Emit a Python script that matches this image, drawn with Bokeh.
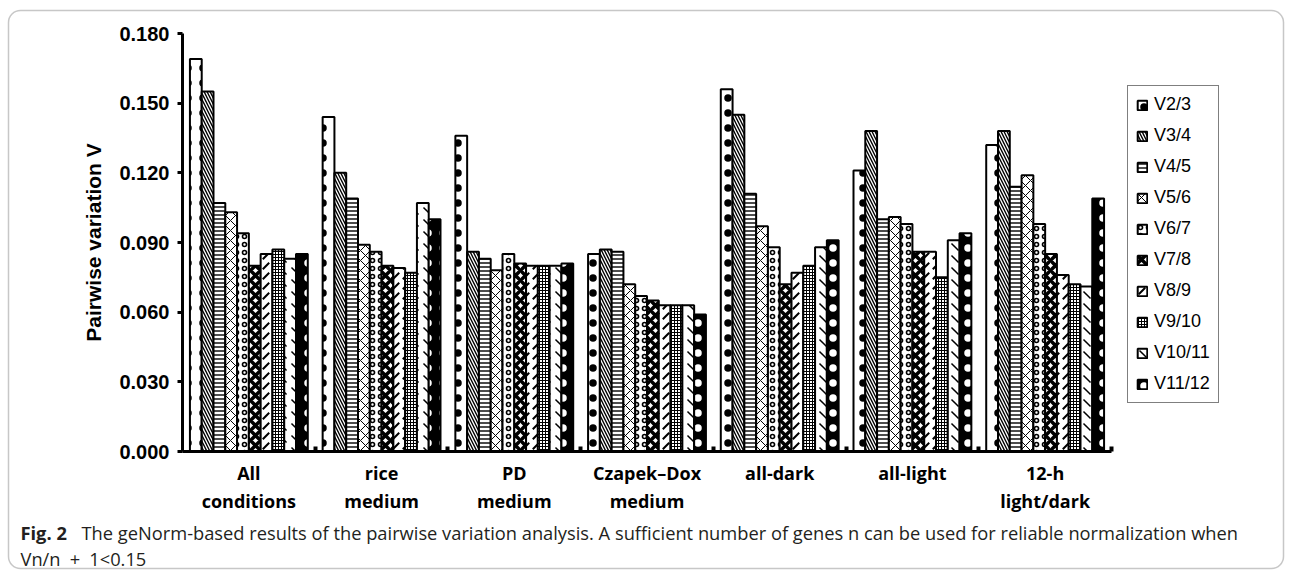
from bokeh.plotting import figure
from bokeh.models import (FixedTicker, NumeralTickFormatter, Legend, LegendItem,
                          Label, BoxAnnotation, Range1d, ColumnDataSource)
from bokeh.embed import file_html
from bokeh.resources import INLINE

# ---------------- data ----------------
groups = ["All\nconditions", "rice\nmedium", "PD\nmedium", "Czapek\u2013Dox\nmedium",
          "all-dark", "all-light", "12-h\nlight/dark"]
series = ["V2/3", "V3/4", "V4/5", "V5/6", "V6/7", "V7/8", "V8/9", "V9/10", "V10/11", "V11/12"]

all_conditions = [0.169, 0.155, 0.107, 0.103, 0.094, 0.080, 0.085, 0.087, 0.083, 0.085]
rice_medium    = [0.144, 0.120, 0.109, 0.089, 0.086, 0.080, 0.079, 0.077, 0.107, 0.100]
pd_medium      = [0.136, 0.086, 0.083, 0.078, 0.085, 0.081, 0.080, 0.080, 0.080, 0.081]
czapek_dox     = [0.085, 0.087, 0.086, 0.072, 0.067, 0.065, 0.063, 0.063, 0.063, 0.059]
all_dark       = [0.156, 0.145, 0.111, 0.097, 0.088, 0.072, 0.077, 0.080, 0.088, 0.091]
all_light      = [0.121, 0.138, 0.100, 0.101, 0.098, 0.086, 0.086, 0.075, 0.091, 0.094]
light_dark_12h = [0.132, 0.138, 0.114, 0.119, 0.098, 0.085, 0.076, 0.072, 0.071, 0.109]

table = [all_conditions, rice_medium, pd_medium, czapek_dox, all_dark, all_light, light_dark_12h]
y_ticks = [0.0, 0.03, 0.06, 0.09, 0.12, 0.15, 0.18]
y_max = 0.18

caption_bold = "Fig. 2"
caption_line1 = ("The geNorm-based results of the pairwise variation analysis. A sufficient "
                 "number of genes n can be used for reliable normalization when")
caption_line2 = "Vn/n\u2002+\u20021<0.15"

# ---------------- styles ----------------
styles = [
    dict(fill_color="white", hatch_pattern=".", hatch_scale=15, hatch_weight=1.0),
    dict(fill_color="white", hatch_pattern="\\", hatch_scale=6, hatch_weight=1.4),
    dict(fill_color="white", hatch_pattern="-", hatch_scale=4, hatch_weight=1.4),
    dict(fill_color="white", hatch_pattern="x", hatch_scale=10, hatch_weight=1.0),
    dict(fill_color="white", hatch_pattern="o", hatch_scale=8, hatch_weight=1.6),
    dict(fill_color="white", hatch_pattern="x", hatch_scale=10, hatch_weight=3.5),
    dict(fill_color="white", hatch_pattern=",", hatch_scale=10, hatch_weight=2.0),
    dict(fill_color="white", hatch_pattern="+", hatch_scale=3, hatch_weight=1.0),
    dict(fill_color="white", hatch_pattern="`", hatch_scale=12, hatch_weight=1.5),
    dict(fill_color="black", hatch_pattern=".", hatch_scale=15, hatch_weight=1.0, hatch_color="white"),
]

# ---------------- layout (pixels) ----------------
W, H = 1285, 570
AX_LEFT, AX_RIGHT = 182, 1111      # pixel x of the axis start / end
AX_BOTTOM, AX_TOP = 451, 33        # pixel y of 0 and of y_max

n_groups = len(groups)
n_series = len(series)
bw = 0.0888

ppx = (AX_RIGHT - AX_LEFT) / n_groups
ppy = (AX_BOTTOM - AX_TOP) / y_max
x_range = Range1d(-AX_LEFT / ppx, (W - AX_LEFT) / ppx)
y_range = Range1d(-(H - AX_BOTTOM) / ppy, AX_BOTTOM / ppy)

p = figure(width=W, height=H, output_backend="svg", toolbar_location=None,
           x_range=x_range, y_range=y_range, min_border=0)
p.xgrid.visible = False
p.ygrid.visible = False
p.outline_line_color = None
p.background_fill_color = "white"
p.border_fill_color = "white"

legend_items = []
for s, name in enumerate(series):
    xs = [g + 0.5 + (s - (n_series - 1) / 2) * bw for g in range(n_groups)]
    ys = [table[g][s] for g in range(n_groups)]
    src = ColumnDataSource(dict(x=xs, top=ys))
    st = dict(styles[s])
    st.setdefault("hatch_color", "black")
    r = p.vbar(x="x", top="top", bottom=0, width=bw, source=src,
               line_color="black", line_width=2, **st)
    legend_items.append(LegendItem(label=name, renderers=[r]))

# x axis
xa = p.xaxis[0]
xa.fixed_location = 0
xa.bounds = (0, n_groups)
xa.ticker = FixedTicker(ticks=[g + 0.5 for g in range(n_groups)],
                        minor_ticks=list(range(1, n_groups + 1)))
xa.major_label_overrides = {g + 0.5: groups[g] for g in range(n_groups)}
xa.axis_line_width = 3
xa.axis_line_color = "black"
xa.major_tick_in = 0
xa.major_tick_out = 0
xa.minor_tick_in = 5
xa.minor_tick_out = 0
xa.minor_tick_line_width = 4
xa.minor_tick_line_color = "black"
xa.major_label_text_font = "Open Sans"
xa.major_label_text_font_style = "bold"
xa.major_label_text_font_size = "18px"
xa.major_label_text_color = "black"
xa.major_label_text_line_height = 1.2
xa.major_label_standoff = 9

# y axis
ya = p.yaxis[0]
ya.fixed_location = 0
ya.bounds = (0, y_max)
ya.ticker = FixedTicker(ticks=y_ticks)
ya.formatter = NumeralTickFormatter(format="0.000")
ya.axis_line_width = 3
ya.axis_line_color = "black"
ya.major_tick_in = 0
ya.major_tick_out = 5
ya.major_tick_line_width = 3
ya.major_tick_line_color = "black"
ya.minor_tick_in = 0
ya.minor_tick_out = 0
ya.major_label_text_font = "Liberation Sans"
ya.major_label_text_font_style = "bold"
ya.major_label_text_font_size = "20px"
ya.major_label_text_color = "black"
ya.major_label_standoff = 8
ya.axis_label = "Pairwise variation V"
ya.axis_label_text_font = "Liberation Sans"
ya.axis_label_text_font_style = "bold"
ya.axis_label_text_font_size = "21px"
ya.axis_label_text_color = "black"
ya.axis_label_standoff = 11

# legend (position in pixels from the bottom-left of the canvas)
legend = Legend(items=legend_items, location=(1127, H - 403),
                border_line_color="black", border_line_width=1.8,
                background_fill_color="white", background_fill_alpha=1,
                padding=8, spacing=10, margin=0,
                glyph_width=12, glyph_height=12, label_height=20,
                label_standoff=6,
                label_text_font="Liberation Sans", label_text_font_size="18px",
                label_text_color="black")
p.add_layout(legend)

# rounded frame around the figure
frame = BoxAnnotation(left=8, right=W - 2, top=H - 10, bottom=2,
                      left_units="screen", right_units="screen",
                      top_units="screen", bottom_units="screen",
                      fill_alpha=0, line_color="#444444", line_width=1.5,
                      border_radius=12, level="overlay")
p.add_layout(frame)

# caption
cap_font = "Open Sans"
cap_size = "18.3px"
p.add_layout(Label(x=20, y=H - 532, x_units="screen", y_units="screen", text=caption_bold,
                   text_font=cap_font, text_font_style="bold", text_font_size=cap_size,
                   text_baseline="middle", text_color="#231f20"))
p.add_layout(Label(x=81, y=H - 532, x_units="screen", y_units="screen",
                   text=caption_line1,
                   text_font=cap_font, text_font_size=cap_size,
                   text_baseline="middle", text_color="#231f20"))
p.add_layout(Label(x=20, y=H - 558, x_units="screen", y_units="screen",
                   text=caption_line2,
                   text_font=cap_font, text_font_size=cap_size,
                   text_baseline="middle", text_color="#231f20"))

open("out.html", "w").write(file_html(p, INLINE))
